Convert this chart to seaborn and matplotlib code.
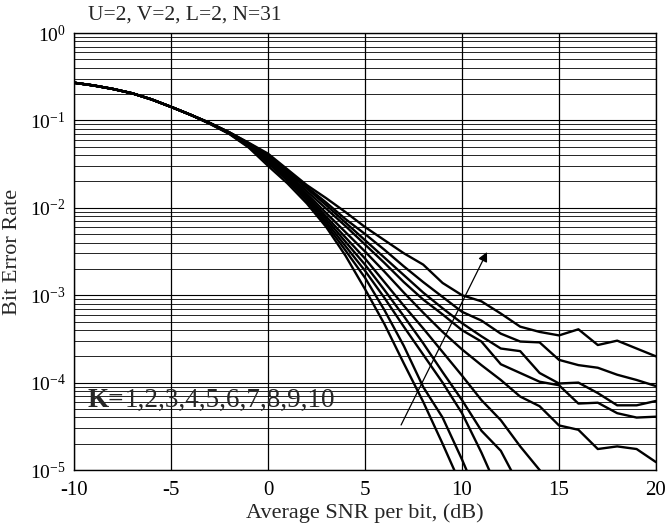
import numpy as np
import pandas as pd
import matplotlib
matplotlib.use("Agg")
import matplotlib.pyplot as plt
import seaborn as sns

# ---- data (log10 of bit error rate) ----
snr_db = list(range(-10, 21))
head = [-0.569, -0.60, -0.64, -0.69, -0.76, -0.845, -0.935]  # s = -10..-4

log_ber_k1 = head + [-1.04, -1.155, -1.31, -1.52, -1.72, -1.95, -2.22, -2.55, -2.93, -3.33, -3.78, -4.22, -4.70, -5.20]
log_ber_k2 = head + [-1.035, -1.15, -1.30, -1.49, -1.69, -1.92, -2.19, -2.49, -2.80, -3.17, -3.58, -4.05, -4.40, -4.88, -5.40]
log_ber_k3 = head + [-1.035, -1.15, -1.29, -1.47, -1.67, -1.90, -2.16, -2.44, -2.72, -3.03, -3.36, -3.68, -4.00, -4.35, -4.80, -5.30]
log_ber_k4 = head + [-1.035, -1.145, -1.285, -1.46, -1.65, -1.88, -2.13, -2.39, -2.65, -2.94, -3.24, -3.55, -3.88, -4.20, -4.55, -4.78, -5.20]
log_ber_k5 = head + [-1.03, -1.145, -1.28, -1.44, -1.64, -1.86, -2.10, -2.34, -2.58, -2.85, -3.12, -3.38, -3.65, -3.92, -4.20, -4.43, -4.73, -5.00, -5.30]
log_ber_k6 = head + [-1.03, -1.14, -1.275, -1.43, -1.62, -1.84, -2.06, -2.28, -2.50, -2.73, -2.97, -3.20, -3.42, -3.62, -3.80, -3.97, -4.16, -4.27, -4.49, -4.54, -4.76, -4.73, -4.76, -4.91]
log_ber_k7 = head + [-1.03, -1.14, -1.27, -1.42, -1.61, -1.81, -2.01, -2.21, -2.42, -2.63, -2.85, -3.05, -3.22, -3.40, -3.53, -3.79, -3.89, -3.99, -4.03, -4.24, -4.23, -4.35, -4.40, -4.39]
log_ber_k8 = head + [-1.03, -1.14, -1.265, -1.41, -1.59, -1.78, -1.97, -2.17, -2.37, -2.57, -2.77, -2.97, -3.15, -3.32, -3.47, -3.61, -3.64, -3.89, -4.01, -4.00, -4.12, -4.26, -4.26, -4.21]
log_ber_k9 = head + [-1.03, -1.135, -1.26, -1.40, -1.57, -1.76, -1.94, -2.13, -2.30, -2.48, -2.67, -2.85, -3.02, -3.19, -3.29, -3.44, -3.53, -3.54, -3.74, -3.80, -3.83, -3.91, -3.97, -4.04]
log_ber_k10 = head + [-1.03, -1.135, -1.255, -1.38, -1.56, -1.74, -1.89, -2.05, -2.22, -2.37, -2.52, -2.65, -2.86, -3.00, -3.07, -3.21, -3.36, -3.42, -3.46, -3.39, -3.57, -3.52, -3.61, -3.70]

series = [log_ber_k1, log_ber_k2, log_ber_k3, log_ber_k4, log_ber_k5,
          log_ber_k6, log_ber_k7, log_ber_k8, log_ber_k9, log_ber_k10]
k_values = list(range(1, 11))

title_text = "U=2, V=2, L=2, N=31"
annot_prefix = "K="
annot_values = "1,2,3,4,5,6,7,8,9,10"
x_ticks = [-10, -5, 0, 5, 10, 15, 20]
y_exponents = [0, -1, -2, -3, -4, -5]

rows = []
for k, vals in zip(k_values, series):
    for s, v in zip(snr_db, vals):
        rows.append({"snr": s, "ber": 10.0 ** v, "K": k})
df = pd.DataFrame(rows)

# ---- style ----
sns.set_style("white")
plt.rcParams["font.family"] = ["Liberation Serif", "DejaVu Serif"]
plt.rcParams["mathtext.fontset"] = "custom"
plt.rcParams["mathtext.rm"] = "Liberation Serif"
plt.rcParams["mathtext.it"] = "Liberation Serif:italic"
plt.rcParams["axes.unicode_minus"] = False

fig = plt.figure(figsize=(6.68, 5.25), dpi=100)
ax = fig.add_axes([74 / 668, 1 - 470 / 525, 582 / 668, 437 / 525])

sns.lineplot(data=df, x="snr", y="ber", hue="K", units="K", estimator=None,
             palette=["black"] * 10, legend=False, linewidth=1.7, ax=ax, zorder=3)

ax.set_yscale("log")
ax.set_xlim(-10, 20)
ax.set_ylim(1e-5, 1)

# grid
for e in range(-5, 1):
    ax.axhline(10.0 ** e, color="black", lw=0.8, zorder=1)
    if e < 0:
        for m in range(2, 10):
            ax.axhline(m * 10.0 ** e, color="black", lw=0.6, zorder=1)
for xv in x_ticks:
    ax.axvline(xv, color="black", lw=0.9, zorder=1)

ax.set_xticks(x_ticks)
ax.set_xticklabels([str(v) for v in x_ticks])
ax.set_yticks([10.0 ** e for e in y_exponents])
ax.set_yticklabels([r"$10^{%d}$" % e for e in y_exponents])
ax.yaxis.set_minor_locator(matplotlib.ticker.NullLocator())
ax.tick_params(axis="x", which="both", length=0, labelsize=15, pad=8, colors="black")
ax.tick_params(axis="y", which="both", length=0, labelsize=14, pad=6, colors="black")

for sp in ax.spines.values():
    sp.set_color("black")
    sp.set_linewidth(1.0)

ax.set_xlabel("Average SNR per bit, (dB)", fontsize=16, labelpad=2)
ax.set_ylabel("Bit Error Rate", fontsize=16)
ax.yaxis.set_label_coords(-0.089, 0.5)

fig.text(88 / 668, 1 - 15 / 525, title_text, fontsize=15.5, ha="left", va="center")

t1 = ax.text(-9.3, 10 ** -4.2, annot_prefix, fontsize=19.5, ha="left", va="center",
             zorder=4, fontweight="bold")
ax.annotate(annot_values, xy=(1, 0.5), xycoords=t1, xytext=(0, 0),
            textcoords="offset points", fontsize=19.5, ha="left", va="center", zorder=4)
ax.annotate("", xy=(11.29, 10 ** -2.506), xytext=(6.86, 10 ** -4.485),
            arrowprops=dict(arrowstyle="-|>", color="black", lw=0.9,
                            mutation_scale=14, shrinkA=0, shrinkB=0), zorder=4)

fig.savefig("out.png", dpi=100)
